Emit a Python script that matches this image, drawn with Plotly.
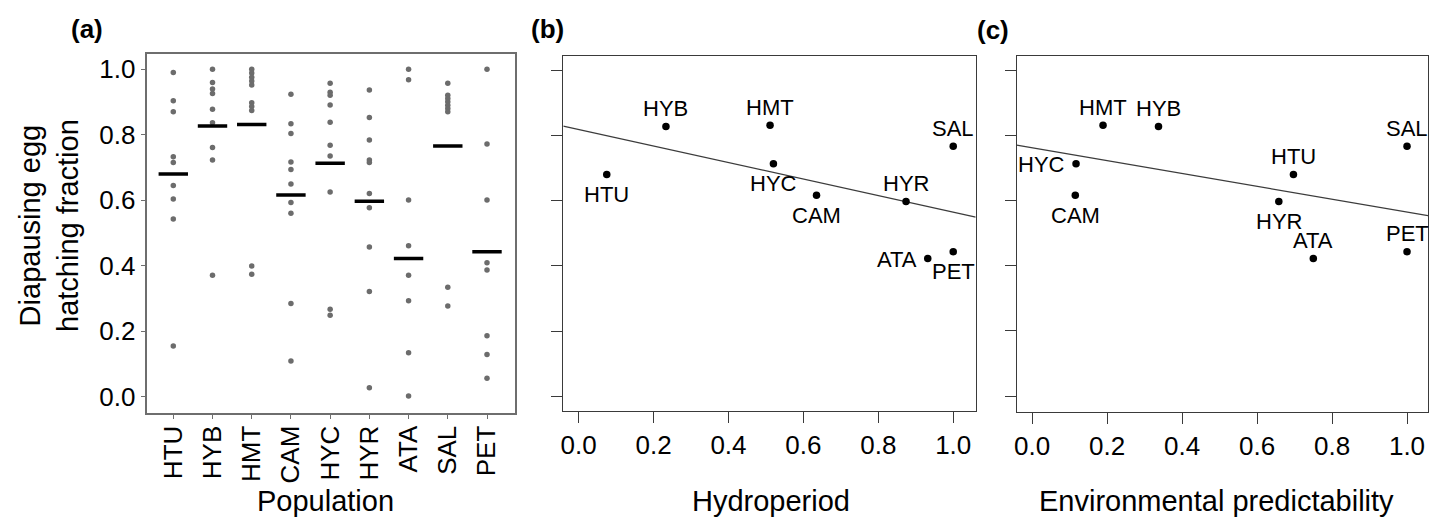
import numpy as np
import plotly.graph_objects as go

# ---- data -------------------------------------------------------------
populations = ["HTU", "HYB", "HMT", "CAM", "HYC", "HYR", "ATA", "SAL", "PET"]

# hatching fraction of each replicate, per population
htu = [0.990, 0.904, 0.870, 0.733, 0.715, 0.645, 0.604, 0.543, 0.155]
hyb = [1.000, 0.960, 0.940, 0.926, 0.878, 0.837, 0.761, 0.723, 0.371]
hmt = [1.000, 0.989, 0.976, 0.964, 0.952, 0.898, 0.886, 0.874, 0.399, 0.374]
cam = [0.924, 0.834, 0.804, 0.717, 0.694, 0.650, 0.593, 0.560, 0.285, 0.109]
hyc = [0.957, 0.930, 0.921, 0.891, 0.838, 0.768, 0.735, 0.625, 0.267, 0.249]
hyr = [0.937, 0.853, 0.784, 0.723, 0.715, 0.621, 0.577, 0.457, 0.321, 0.027]
ata = [1.000, 0.968, 0.601, 0.461, 0.371, 0.293, 0.134, 0.002]
sal = [0.957, 0.921, 0.911, 0.901, 0.890, 0.880, 0.870, 0.334, 0.277]
pet = [1.000, 0.772, 0.601, 0.409, 0.387, 0.186, 0.129, 0.056]
replicates = [htu, hyb, hmt, cam, hyc, hyr, ata, sal, pet]

# population mean hatching fraction
mean_fraction = [0.680, 0.827, 0.831, 0.616, 0.713, 0.597, 0.422, 0.766, 0.443]

# habitat descriptors
hydroperiod = [0.075, 0.233, 0.511, 0.635, 0.520, 0.874, 0.932, 1.000, 1.000]
predictability = [0.697, 0.337, 0.189, 0.115, 0.117, 0.658, 0.750, 1.000, 1.000]

y_ticks = [0.0, 0.2, 0.4, 0.6, 0.8, 1.0]
x_ticks = [0.0, 0.2, 0.4, 0.6, 0.8, 1.0]

# where each population label sits relative to its point
label_side_b = ["below", "above", "above", "below", "below", "above", "left", "above", "below"]
label_side_c = ["above", "above", "above", "below", "left", "below", "above", "above", "above"]

# ---- styling ----------------------------------------------------------
W, H = 1433, 519
FONT = "Liberation Sans, Arial, sans-serif"
TICK_SIZE = 26
TITLE_SIZE = 29
LABEL_SIZE = 22

range_a_x = [-0.678, 8.714]
range_a_y = [-0.0507, 1.0467]
range_b_x = [-0.041, 1.060]
range_b_y = [-0.0443, 1.0429]
range_c_x = [-0.0413, 1.056]
range_c_y = [-0.0474, 1.0429]

fig = go.Figure()

# (a) replicate dots and population means
for name, vals in zip(populations, replicates):
    fig.add_trace(go.Scatter(
        x=[name] * len(vals), y=vals, mode="markers",
        marker=dict(color="#6c6c6c", size=5.5),
        xaxis="x", yaxis="y", showlegend=False, hoverinfo="x+y"))
fig.add_trace(go.Scatter(
    x=populations, y=mean_fraction, mode="markers",
    marker=dict(symbol="line-ew", size=21, line=dict(width=3.5, color="black")),
    xaxis="x", yaxis="y", showlegend=False))


def add_regression_panel(xvals, xrange, xa, ya, sides):
    slope, intercept = np.polyfit(xvals, mean_fraction, 1)
    xs = np.array(xrange)
    fig.add_trace(go.Scatter(
        x=xs, y=intercept + slope * xs, mode="lines",
        line=dict(color="#3c3c3c", width=1.3),
        xaxis=xa, yaxis=ya, showlegend=False, hoverinfo="skip"))
    fig.add_trace(go.Scatter(
        x=xvals, y=mean_fraction, mode="markers",
        marker=dict(color="black", size=7.5),
        text=populations, xaxis=xa, yaxis=ya, showlegend=False))
    for name, xv, yv, side in zip(populations, xvals, mean_fraction, sides):
        ann = dict(x=xv, y=yv, xref=xa, yref=ya, text=name, showarrow=False,
                   font=dict(family=FONT, size=LABEL_SIZE, color="black"))
        if side == "above":
            ann.update(yshift=18)
        elif side == "below":
            ann.update(yshift=-20)
        else:
            ann.update(xanchor="right", xshift=-9, yshift=-1)
        fig.add_annotation(**ann)


add_regression_panel(hydroperiod, range_b_x, "x2", "y2", label_side_b)
add_regression_panel(predictability, range_c_x, "x3", "y3", label_side_c)

frame_a = dict(showline=True, mirror=True, linecolor="#6e6e6e", linewidth=2,
               showgrid=False, zeroline=False, ticks="outside", ticklen=4,
               tickcolor="#6e6e6e", tickwidth=1,
               tickfont=dict(family=FONT, size=TICK_SIZE, color="black"))
frame_bc = dict(showline=True, mirror=True, linecolor="#3a3a3a", linewidth=1.3,
                showgrid=False, zeroline=False, ticks="outside", ticklen=11,
                tickcolor="#3a3a3a", tickwidth=1.3,
                tickfont=dict(family=FONT, size=TICK_SIZE, color="black"))

fig.update_layout(
    width=W, height=H,
    margin=dict(l=0, r=0, t=0, b=0, autoexpand=False),
    paper_bgcolor="white", plot_bgcolor="white",
    font=dict(family=FONT, color="black"),
    xaxis=dict(frame_a, domain=[146.7 / W, 515 / W], type="category",
               categoryorder="array", categoryarray=populations,
               range=range_a_x, tickangle=-90, ticklabelstandoff=-4, anchor="y"),
    yaxis=dict(frame_a, domain=[1 - 413.3 / H, 1 - 54 / H], range=range_a_y,
               tickvals=y_ticks, tickformat=".1f", anchor="x"),
    xaxis2=dict(frame_bc, domain=[563.3 / W, 975.7 / W], range=range_b_x,
                tickvals=x_ticks, tickformat=".1f", anchor="y2"),
    yaxis2=dict(frame_bc, domain=[1 - 410.7 / H, 1 - 56 / H], range=range_b_y,
                tickvals=y_ticks, showticklabels=False, anchor="x2"),
    xaxis3=dict(frame_bc, domain=[1016.7 / W, 1428 / W], range=range_c_x,
                tickvals=x_ticks, tickformat=".1f", anchor="y3"),
    yaxis3=dict(frame_bc, domain=[1 - 411.7 / H, 1 - 56 / H], range=range_c_y,
                tickvals=y_ticks, showticklabels=False, anchor="x3"),
)

# axis titles and panel tags
paper_text = [
    ("Population", 325, 501, TITLE_SIZE, 0, False),
    ("Hydroperiod", 771, 501, TITLE_SIZE, 0, False),
    ("Environmental predictability", 1216, 501, TITLE_SIZE, 0, False),
    ("Diapausing egg<br>hatching fraction", 49, 225, TITLE_SIZE, -90, False),
    ("(a)", 87, 29, 26, 0, True),
    ("(b)", 547, 29, 26, 0, True),
    ("(c)", 993, 30, 26, 0, True),
]
for txt, px, py, size, angle, bold in paper_text:
    fig.add_annotation(
        x=px / W, y=1 - py / H, xref="paper", yref="paper",
        text=f"<b>{txt}</b>" if bold else txt, showarrow=False,
        textangle=angle, xanchor="center", yanchor="middle",
        font=dict(family=FONT, size=size, color="black"))

fig.write_html("out.html")
